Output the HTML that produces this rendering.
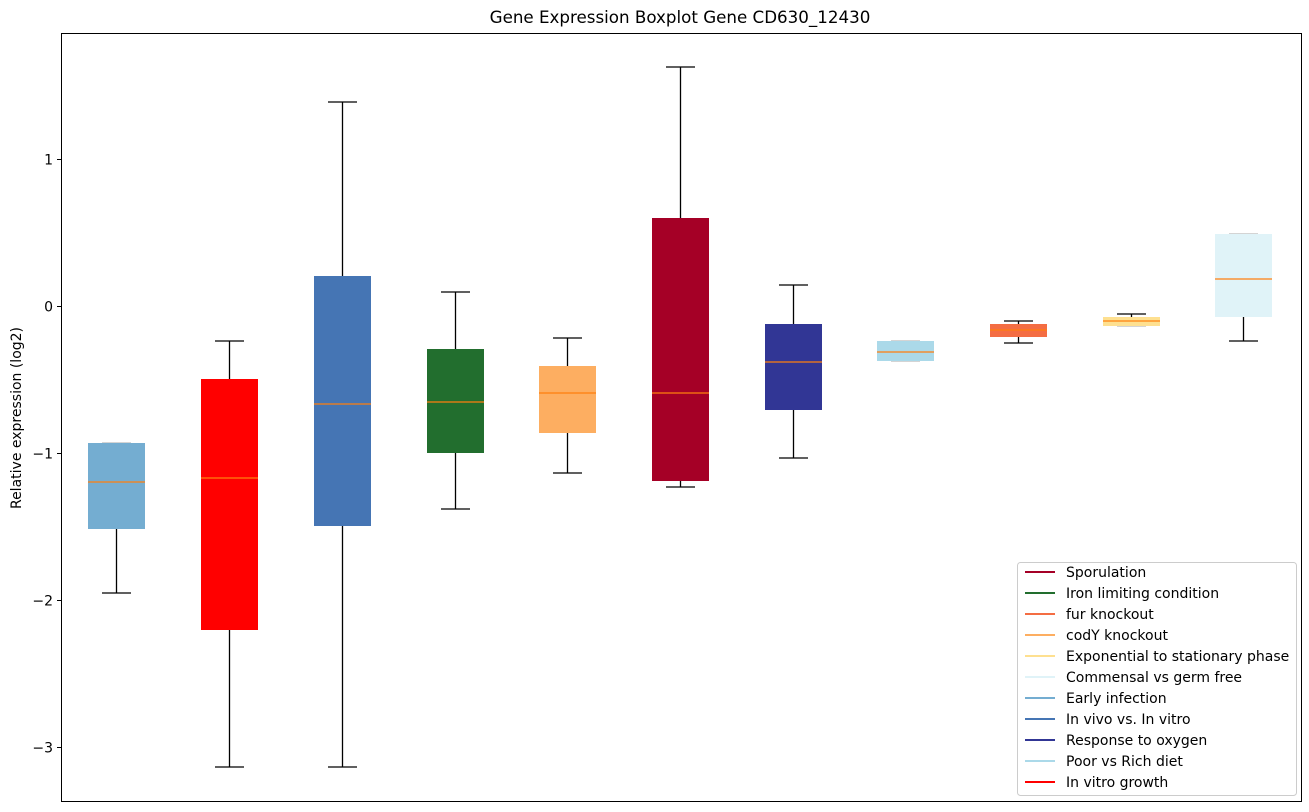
<!DOCTYPE html>
<html><head><meta charset="utf-8"><style>
html,body{margin:0;padding:0;background:#fff;}
svg{display:block;font-family:"DejaVu Sans","Liberation Sans",sans-serif;}
</style></head><body>
<svg width="1309" height="812" viewBox="0 0 1309 812" xmlns="http://www.w3.org/2000/svg">
<rect width="1309" height="812" fill="#fff"/>
<text x="680" y="23" font-size="16.7" text-anchor="middle" fill="#000">Gene Expression Boxplot Gene CD630_12430</text>
<g stroke="#000" stroke-width="1">
<line x1="57" y1="159.5" x2="61" y2="159.5"/>
<line x1="57" y1="306.5" x2="61" y2="306.5"/>
<line x1="57" y1="453.5" x2="61" y2="453.5"/>
<line x1="57" y1="600.5" x2="61" y2="600.5"/>
<line x1="57" y1="747.5" x2="61" y2="747.5"/>
</g>
<g font-size="14" text-anchor="end" fill="#000">
<text x="53" y="164.5">1</text>
<text x="53" y="311.5">0</text>
<text x="53" y="458.5">−1</text>
<text x="53" y="605.5">−2</text>
<text x="53" y="752.5">−3</text>
</g>
<text transform="translate(21,418) rotate(-90)" font-size="14" text-anchor="middle">Relative expression (log2)</text>
<g id="boxes">
<g stroke="#000" stroke-width="1.3">
<line x1="116.5" y1="529" x2="116.5" y2="593"/><line x1="102" y1="593" x2="131" y2="593"/>
<line x1="229.5" y1="341" x2="229.5" y2="379"/><line x1="229.5" y1="630" x2="229.5" y2="767"/><line x1="215" y1="341" x2="244" y2="341"/><line x1="215" y1="767" x2="244" y2="767"/>
<line x1="342.5" y1="102" x2="342.5" y2="276"/><line x1="342.5" y1="526" x2="342.5" y2="767"/><line x1="328" y1="102" x2="357" y2="102"/><line x1="328" y1="767" x2="357" y2="767"/>
<line x1="455.5" y1="292" x2="455.5" y2="349"/><line x1="455.5" y1="453" x2="455.5" y2="509"/><line x1="441" y1="292" x2="470" y2="292"/><line x1="441" y1="509" x2="470" y2="509"/>
<line x1="567.5" y1="338" x2="567.5" y2="366"/><line x1="567.5" y1="433" x2="567.5" y2="473"/><line x1="553" y1="338" x2="582" y2="338"/><line x1="553" y1="473" x2="582" y2="473"/>
<line x1="680.5" y1="67" x2="680.5" y2="218"/><line x1="680.5" y1="481" x2="680.5" y2="487"/><line x1="666" y1="67" x2="695" y2="67"/><line x1="666" y1="487" x2="695" y2="487"/>
<line x1="793.5" y1="285" x2="793.5" y2="324"/><line x1="793.5" y1="410" x2="793.5" y2="458"/><line x1="779" y1="285" x2="808" y2="285"/><line x1="779" y1="458" x2="808" y2="458"/>
<line x1="1018.5" y1="321" x2="1018.5" y2="324"/><line x1="1018.5" y1="337" x2="1018.5" y2="343"/><line x1="1004" y1="321" x2="1033" y2="321"/><line x1="1004" y1="343" x2="1033" y2="343"/>
<line x1="1131.5" y1="314" x2="1131.5" y2="317"/><line x1="1117" y1="314" x2="1146" y2="314"/>
<line x1="1243.5" y1="317" x2="1243.5" y2="341"/><line x1="1229" y1="341" x2="1258" y2="341"/>
</g>
<line x1="102" y1="443" x2="131" y2="443" stroke="#bbb" stroke-width="1.3"/>
<line x1="891" y1="341" x2="920" y2="341" stroke="#bbb" stroke-width="1.3"/>
<line x1="891" y1="361" x2="920" y2="361" stroke="#bbb" stroke-width="1.3"/>
<line x1="1117" y1="326" x2="1146" y2="326" stroke="#bbb" stroke-width="1.3"/>
<line x1="1229" y1="234" x2="1258" y2="234" stroke="#bbb" stroke-width="1.3"/>
<rect x="88" y="443" width="57" height="86" fill="#74add1"/>
<rect x="201" y="379" width="57" height="251" fill="#ff0000"/>
<rect x="314" y="276" width="57" height="250" fill="#4575b4"/>
<rect x="427" y="349" width="57" height="104" fill="#226e2e"/>
<rect x="539" y="366" width="57" height="67" fill="#fdae61"/>
<rect x="652" y="218" width="57" height="263" fill="#a50026"/>
<rect x="765" y="324" width="57" height="86" fill="#313695"/>
<rect x="877" y="341" width="57" height="20" fill="#abd9e9"/>
<rect x="990" y="324" width="57" height="13" fill="#f46d43"/>
<rect x="1103" y="317" width="57" height="9" fill="#fee090"/>
<rect x="1215" y="234" width="57" height="83" fill="#e0f3f8"/>
<g stroke="#ff7f0e" stroke-width="1.3">
<line x1="88" y1="482" x2="145" y2="482"/>
<line x1="201" y1="478" x2="258" y2="478"/>
<line x1="314" y1="404" x2="371" y2="404"/>
<line x1="427" y1="402" x2="484" y2="402"/>
<line x1="539" y1="393" x2="596" y2="393"/>
<line x1="652" y1="393" x2="709" y2="393"/>
<line x1="765" y1="362" x2="822" y2="362"/>
<line x1="877" y1="352" x2="934" y2="352"/>
<line x1="990" y1="330" x2="1047" y2="330"/>
<line x1="1103" y1="321" x2="1160" y2="321"/>
<line x1="1215" y1="279" x2="1272" y2="279"/>
</g>
</g>
<rect x="61.5" y="33.5" width="1240" height="768" fill="none" stroke="#000" stroke-width="1"/>
<rect x="1017.5" y="562.5" width="279" height="233" rx="3" fill="#fff" fill-opacity="0.85" stroke="#ccc"/>
<g font-size="14" fill="#000" stroke-width="2">
<line x1="1025" y1="572" x2="1055" y2="572" stroke="#a50026"/><text x="1066" y="577">Sporulation</text>
<line x1="1025" y1="593" x2="1055" y2="593" stroke="#226e2e"/><text x="1066" y="598">Iron limiting condition</text>
<line x1="1025" y1="614" x2="1055" y2="614" stroke="#f46d43"/><text x="1066" y="619">fur knockout</text>
<line x1="1025" y1="635" x2="1055" y2="635" stroke="#fdae61"/><text x="1066" y="640">codY knockout</text>
<line x1="1025" y1="656" x2="1055" y2="656" stroke="#fee090"/><text x="1066" y="661">Exponential to stationary phase</text>
<line x1="1025" y1="677" x2="1055" y2="677" stroke="#e0f3f8"/><text x="1066" y="682">Commensal vs germ free</text>
<line x1="1025" y1="698" x2="1055" y2="698" stroke="#74add1"/><text x="1066" y="703">Early infection</text>
<line x1="1025" y1="719" x2="1055" y2="719" stroke="#4575b4"/><text x="1066" y="724">In vivo vs. In vitro</text>
<line x1="1025" y1="740" x2="1055" y2="740" stroke="#313695"/><text x="1066" y="745">Response to oxygen</text>
<line x1="1025" y1="761" x2="1055" y2="761" stroke="#abd9e9"/><text x="1066" y="766">Poor vs Rich diet</text>
<line x1="1025" y1="782" x2="1055" y2="782" stroke="#ff0000"/><text x="1066" y="787">In vitro growth</text>
</g>
</svg>
</body></html>
